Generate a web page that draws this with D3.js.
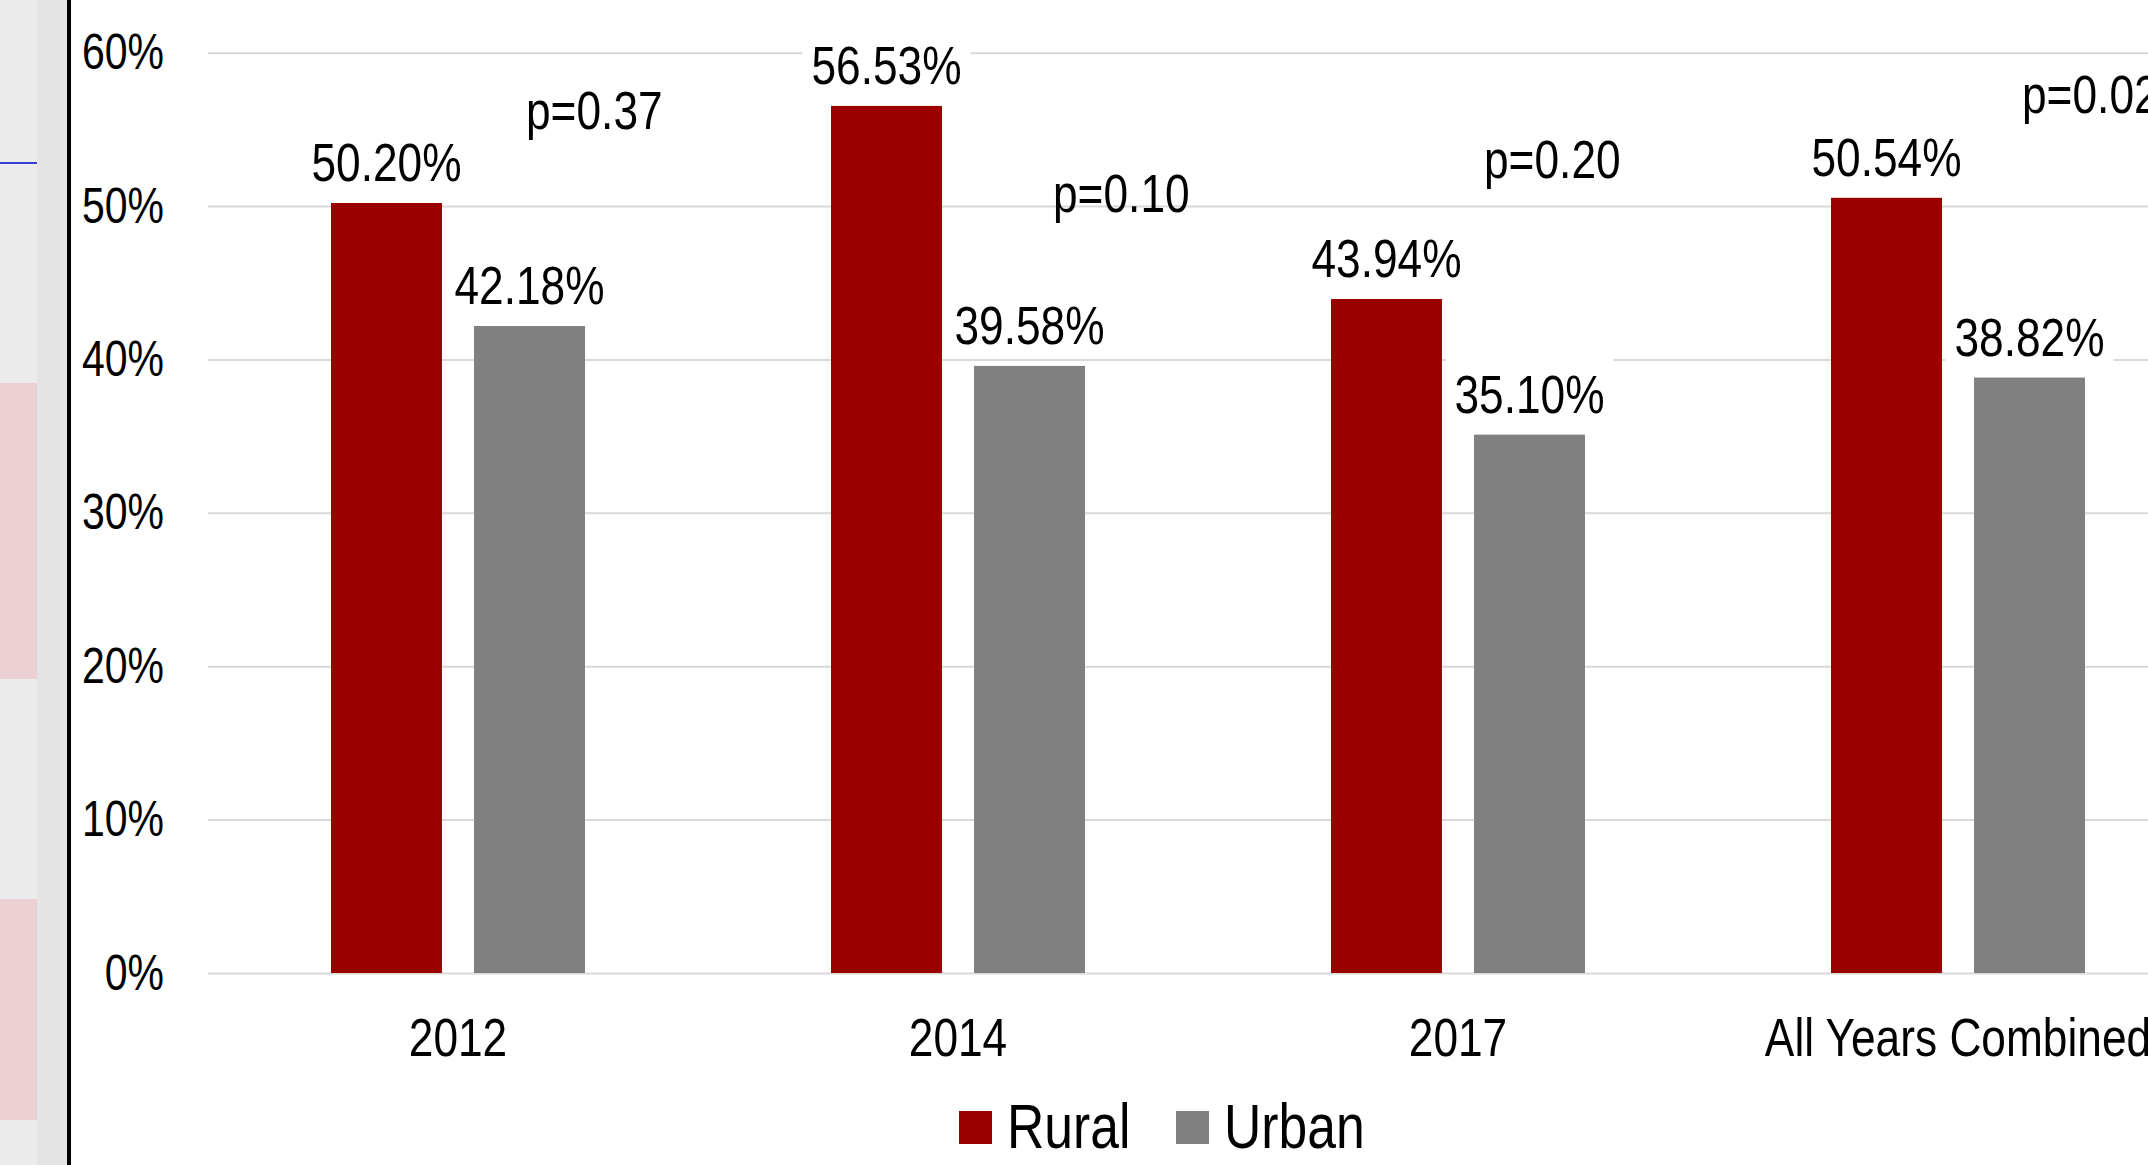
<!DOCTYPE html>
<html>
<head>
<meta charset="utf-8">
<script src="https://cdn.jsdelivr.net/npm/d3@7"></script>
<style>
  html, body { margin: 0; padding: 0; background: #fff; overflow: hidden; }
  svg { display: block; }
  text { font-family: "Liberation Sans Narrow", "Arial Narrow", "Liberation Sans", Arial, sans-serif; fill: #000; }
</style>
</head>
<body>
<svg id="chart" width="2148" height="1165"></svg>
<script>
const categories = ["2012", "2014", "2017", "All Years Combined"];
const series = ["Rural", "Urban"];
const rural = [50.20, 56.53, 43.94, 50.54];
const urban = [42.18, 39.58, 35.10, 38.82];
const pValues = ["p=0.37", "p=0.10", "p=0.20", "p=0.02"];
const yTicks = [0, 10, 20, 30, 40, 50, 60];

// where the p-value text boxes sit (offset from group centre, baseline in % units)
const pLabelDx = [68, 95, 26, 64];
const pLabelAt = [55.0, 49.6, 51.8, 56.1];

const colors = { Rural: "#990000", Urban: "#808080" };
const NARROW = 0.82; // no Arial Narrow here, so squeeze Liberation Sans

const svg = d3.select("#chart");
const W = 2148, H = 1165;

// left side of the slide (grey panel, pink blocks, black rule)
const side = svg.append("g");
side.append("rect").attr("x", 0).attr("y", 0).attr("width", 37).attr("height", H).attr("fill", "#ebebeb");
side.append("rect").attr("x", 37).attr("y", 0).attr("width", 30).attr("height", H).attr("fill", "#e4e4e4");
side.append("rect").attr("x", 0).attr("y", 383).attr("width", 37).attr("height", 296).attr("fill", "#ecd1d4");
side.append("rect").attr("x", 0).attr("y", 899).attr("width", 37).attr("height", 221).attr("fill", "#ecd1d4");
side.append("line").attr("x1", 0).attr("x2", 37).attr("y1", 163).attr("y2", 163)
  .attr("stroke", "#3b3bd6").attr("stroke-width", 2);
side.append("rect").attr("x", 67).attr("y", 0).attr("width", 4).attr("height", H).attr("fill", "#000");

const x0 = d3.scaleBand().domain(categories).range([208, 2208]).padding(0);
const x1 = d3.scaleBand().domain(series).range([0, x0.bandwidth()])
  .paddingInner(0.224).paddingOuter(0.86);
const y = d3.scaleLinear().domain([0, 60]).range([973, 52.7]);

// gridlines + y labels
const yAxis = svg.append("g")
  .attr("transform", "translate(208,0)")
  .call(d3.axisLeft(y).tickValues(yTicks).tickFormat(d => d + "%")
    .tickSizeInner(-2000).tickSizeOuter(0).tickPadding(44));
yAxis.select(".domain").remove();
yAxis.selectAll(".tick line").attr("stroke", "#d9d9d9").attr("stroke-width", 2);
yAxis.selectAll(".tick text")
  .attr("font-size", 50)
  .attr("font-family", null)
  .attr("fill", "#000")
  .attr("x", -44 / NARROW)
  .attr("transform", `scale(${NARROW},1)`);

// category labels
const xAxis = svg.append("g")
  .attr("transform", "translate(0,973)")
  .call(d3.axisBottom(x0).tickSize(0).tickPadding(0));
xAxis.select(".domain").remove();
xAxis.selectAll(".tick text")
  .attr("font-size", 54)
  .attr("font-family", null)
  .attr("fill", "#000")
  .attr("dy", null)
  .attr("y", 83)
  .attr("transform", `scale(${NARROW},1)`);

const rows = categories.map((c, i) => ({ cat: c, vals: [
  { key: "Rural", value: rural[i] },
  { key: "Urban", value: urban[i] }
]}));

const groups = svg.append("g").selectAll("g")
  .data(rows)
  .join("g")
  .attr("transform", d => `translate(${x0(d.cat)},0)`);

groups.selectAll("rect")
  .data(d => d.vals)
  .join("rect")
  .attr("x", d => x1(d.key))
  .attr("y", d => y(d.value))
  .attr("width", x1.bandwidth())
  .attr("height", d => y(0) - y(d.value))
  .attr("fill", d => colors[d.key]);

// value labels with white boxes
const labels = groups.selectAll("g.lbl")
  .data(d => d.vals)
  .join("g")
  .attr("class", "lbl")
  .attr("transform", d => `translate(${x1(d.key) + x1.bandwidth() / 2},${y(d.value) - 22})`);

labels.append("rect").attr("fill", "#fff");
labels.append("text")
  .attr("text-anchor", "middle")
  .attr("font-size", 54)
  .attr("transform", `scale(${NARROW},1)`)
  .text(d => d.value.toFixed(2) + "%");
labels.each(function () {
  const g = d3.select(this);
  const bb = g.select("text").node().getBBox();
  const w = bb.width * NARROW;
  g.select("rect")
    .attr("x", -w / 2 - 9).attr("width", w + 18)
    .attr("y", -58).attr("height", 72);
});

// p-values
svg.append("g").selectAll("text")
  .data(pValues)
  .join("text")
  .attr("transform", (d, i) => {
    const px = x0(categories[i]) + x0.bandwidth() / 2 + pLabelDx[i];
    return `translate(${px},${y(pLabelAt[i])}) scale(${NARROW},1)`;
  })
  .attr("font-size", 54)
  .text(d => d);

// legend
const legend = svg.append("g").attr("transform", "translate(959,1111)");
const items = legend.selectAll("g")
  .data(series)
  .join("g")
  .attr("transform", (d, i) => `translate(${i * 217},0)`);
items.append("rect")
  .attr("width", 33).attr("height", 33)
  .attr("fill", d => colors[d]);
items.append("text")
  .attr("transform", `translate(48,37) scale(${NARROW},1)`)
  .attr("font-size", 63)
  .text(d => d);
</script>
</body>
</html>
